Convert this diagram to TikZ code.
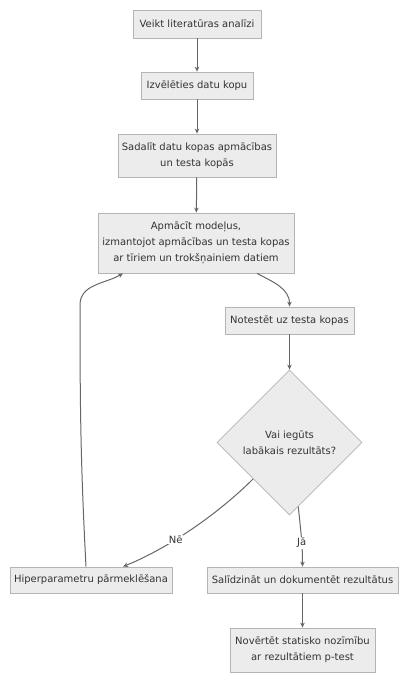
\documentclass[tikz,border=0pt]{standalone}
\usepackage{fontspec}
\setmainfont{DejaVu Sans}
\usepackage{tikz}
\usetikzlibrary{arrows.meta,shapes.geometric,calc}

\definecolor{boxfill}{HTML}{ECECEC}
\definecolor{boxline}{HTML}{B4B4B4}
\definecolor{linkcol}{HTML}{666666}
\definecolor{txtcol}{HTML}{333333}

\tikzset{
  stepbox/.style={draw=boxline,fill=boxfill,line width=0.8pt,inner sep=0pt,
    align=center,text=txtcol,font=\fontsize{10}{16}\selectfont},
  choice/.style={diamond,draw=boxline,fill=boxfill,line width=0.8pt,
    shape aspect=1,inner sep=0pt,minimum size=145pt,align=center,text=txtcol,
    font=\fontsize{10}{16}\selectfont},
  link/.style={draw=linkcol,line width=1pt,-{Stealth[length=5pt,width=4.5pt]}},
  tag/.style={fill=white,inner sep=1pt,text=txtcol,font=\fontsize{10}{12}\selectfont}
}

\begin{document}
\begin{tikzpicture}[x=1pt,y=-1pt]
\useasboundingbox (0,0) rectangle (405,681);
\node[stepbox,minimum width=128pt,minimum height=28pt] (lit) at (197,24) {Veikt literatūras analīzi};
\node[stepbox,minimum width=112pt,minimum height=27pt] (kopa) at (197,85.5) {Izvēlēties datu kopu};
\node[stepbox,minimum width=158pt,minimum height=43pt] (sadal) at (197,155.5) {Sadalīt datu kopas apmācības\\un testa kopās};
\node[stepbox,minimum width=196pt,minimum height=60pt] (apm) at (196,243) {Apmācīt modeļus,\\izmantojot apmācības un testa kopas\\ar tīriem un trokšņainiem datiem};
\node[stepbox,minimum width=129pt,minimum height=27pt] (test) at (289.5,320.5) {Notestēt uz testa kopas};
\node[choice] (best) at (289.5,442.5) {Vai iegūts\\labākais rezultāts?};
\node[stepbox,minimum width=162pt,minimum height=26pt] (hiper) at (91,580) {Hiperparametru pārmeklēšana};
\node[stepbox,minimum width=191pt,minimum height=26pt] (sal) at (302.5,580) {Salīdzināt un dokumentēt rezultātus};
\node[stepbox,minimum width=145pt,minimum height=44pt] (ptest) at (302.5,650) {Novērtēt statisko nozīmību\\ar rezultātiem p-test};
\coordinate (bend) at (80,305);

% straight steps
\draw[link] (lit) -- (kopa);
\draw[link] (kopa) -- (sadal);
\draw[link] (sadal) -- (apm);
\draw[link] ([xshift=61pt]apm.south) to[out=-28,in=90] (test.north);
\draw[link] (test) -- (best);
% decision
\draw[link] (best.south west) to[out=-135,in=22,looseness=0.8]
  node[tag,pos=0.62] {Nē} ([xshift=32pt]hiper.north);
\draw[link] ($(best.south)!0.12!(best.east)$) to[out=-84,in=90]
  node[tag,pos=0.62] {Jā} (sal.north);
\draw[link] (sal) -- (ptest);
% loop back
\draw[link] ([xshift=-5pt]hiper.north) to[out=93,in=-90] (bend)
  to[out=90,in=-150] ([xshift=-73pt]apm.south);
\end{tikzpicture}
\end{document}
